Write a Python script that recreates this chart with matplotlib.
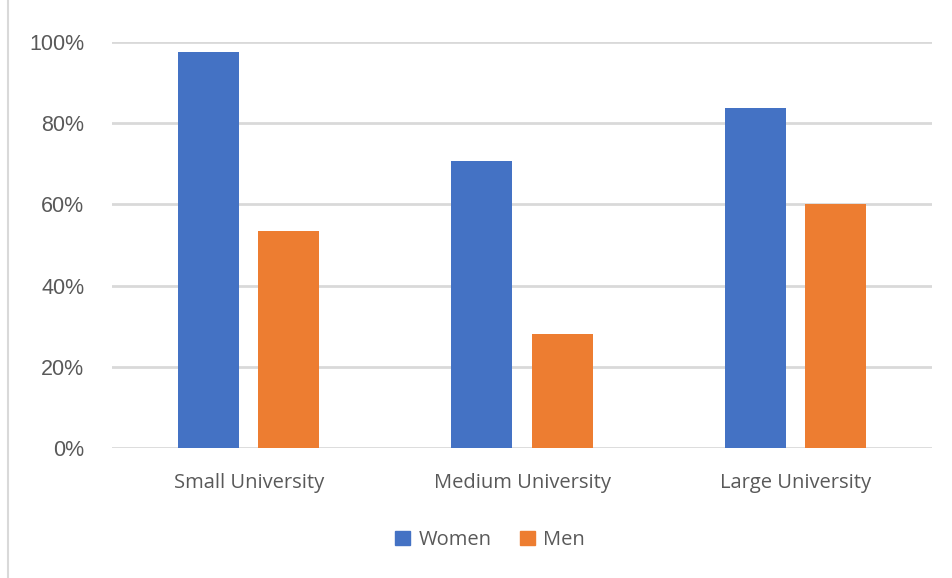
import matplotlib.pyplot as plt
from matplotlib.patches import Patch
from matplotlib.lines import Line2D
import numpy as np

categories = ["Small University", "Medium University", "Large University"]
women = [0.976, 0.707, 0.838]
men = [0.535, 0.280, 0.601]
yticks = [0, 0.2, 0.4, 0.6, 0.8, 1.0]
ytick_labels = ["0%", "20%", "40%", "60%", "80%", "100%"]

blue = "#4472C4"
orange = "#ED7D31"
text_gray = "#595959"

fig = plt.figure(figsize=(9.52, 5.78), dpi=100)
ax = fig.add_axes([112 / 952, 1 - 448 / 578, 820 / 952, 406 / 578])

x = np.arange(len(categories))
w = 0.223
gap = 0.035
ax.bar(x - w / 2 - gap, women, width=w, color=blue, zorder=3)
ax.bar(x + w / 2 + gap, men, width=w, color=orange, zorder=3)

ax.set_xlim(-0.5, 2.5)
ax.set_ylim(0, 1.0)
ax.set_yticks(yticks)
ax.set_yticklabels(ytick_labels, fontsize=15.5, color=text_gray, family="Liberation Sans")
ax.set_xticks(x)
ax.set_xticklabels(categories, fontsize=14.5, color=text_gray, family="Open Sans")
ax.tick_params(axis="both", length=0)
ax.tick_params(axis="y", pad=20)
ax.tick_params(axis="x", pad=18)
ax.grid(axis="y", color="#D9D9D9", linewidth=2, zorder=0)
ax.set_axisbelow(True)
for s in ax.spines.values():
    s.set_visible(False)

handles = [Patch(color=blue, label="Women"), Patch(color=orange, label="Men")]
fig.legend(handles=handles, loc="center", bbox_to_anchor=(490 / 952, 1 - 540 / 578),
           ncol=2, frameon=False, prop={"family": "Open Sans", "size": 14.5},
           labelcolor=text_gray, handlelength=0.75, handleheight=0.75,
           handletextpad=0.4, columnspacing=1.4)

# thin border on the left edge like the source
fig.add_artist(Line2D([8 / 952, 8 / 952], [0, 1], color="#D9D9D9", linewidth=1.5))

fig.savefig("out.png", dpi=100)
